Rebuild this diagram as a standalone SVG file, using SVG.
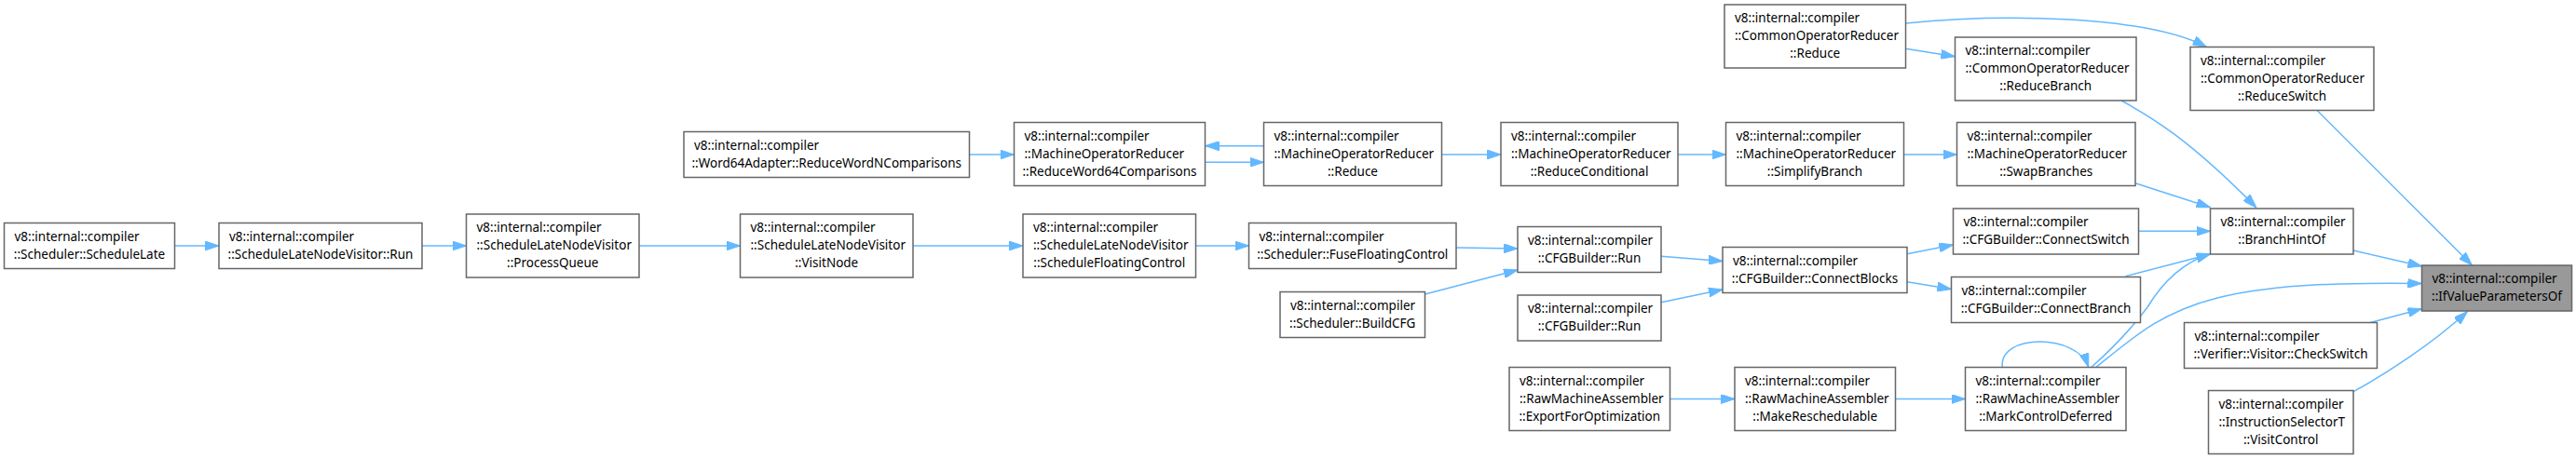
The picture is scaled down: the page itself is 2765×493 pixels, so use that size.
<svg xmlns="http://www.w3.org/2000/svg" width="2765" height="493" viewBox="0 0 2765 493">
<style>
.node rect{fill:#ffffff;stroke:#666666;stroke-width:1.5}
.hl rect{fill:#999999}
.node text{font-family:"Noto Sans","Liberation Sans",sans-serif;font-size:13.5px;fill:#000000}
.node text.c{text-anchor:middle}
.edge{fill:none;stroke:#63b8ff;stroke-width:1.5;marker-end:url(#ah)}
</style>
<defs>
<marker id="ah" viewBox="0 0 15 10" refX="15" refY="5" markerWidth="15" markerHeight="10" markerUnits="userSpaceOnUse" orient="auto">
<path d="M0,0 L15,5 L0,10 z" fill="#63b8ff" stroke="#63b8ff" stroke-width="1"/>
</marker>
</defs>
<rect width="2765" height="493" fill="#ffffff"/>
<g id="connectors">
<path class="edge" d="M187.5,264 L235,264"/>
<path class="edge" d="M453,264 L500.5,264"/>
<path class="edge" d="M686,264 L794.5,264"/>
<path class="edge" d="M980,264 L1098,264"/>
<path class="edge" d="M1283.5,264 L1340.5,264"/>
<path class="edge" d="M1040.5,166 L1088.5,166"/>
<path class="edge" d="M1356.5,156.7 L1293.5,156.7"/>
<path class="edge" d="M1293.5,174.3 L1356.5,174.3"/>
<path class="edge" d="M1547.5,166 L1611,166"/>
<path class="edge" d="M1801,166 L1852.5,166"/>
<path class="edge" d="M2043.5,166 L2100.5,166"/>
<path class="edge" d="M1563,266 L1629,267"/>
<path class="edge" d="M1529.5,316 L1629,290"/>
<path class="edge" d="M1783,275.3 L1849,280.5"/>
<path class="edge" d="M1783,324.7 L1849,311"/>
<path class="edge" d="M2047,272.7 L2096.5,263"/>
<path class="edge" d="M2047,302.7 L2094.5,310.5"/>
<path class="edge" d="M1792.5,428.5 L1862,428.5"/>
<path class="edge" d="M2034.5,428.5 L2109.5,428.5"/>
<path class="edge" d="M2045.5,52.3 L2098.5,60.7"/>
<path class="edge" d="M2045.5,25 C2150,14 2305,17 2368.5,50.5"/>
<path class="edge" d="M2277,108 C2310,126 2350,150 2422,223"/>
<path class="edge" d="M2292,196.7 L2372.5,222.7"/>
<path class="edge" d="M2295.5,248.3 L2372.5,248.3"/>
<path class="edge" d="M2281.7,296.7 L2372.5,273"/>
<path class="edge" d="M2245,394.3 C2270,372 2290,350 2305,330 C2320,305 2340,283 2372.5,272.5"/>
<path class="edge" d="M2250,394.3 C2290,362 2320,335 2380,320 C2450,303 2530,304 2599.5,304.5"/>
<path class="edge" d="M2149.3,394.3 C2145,358 2230,358 2241.7,394.3"/>
<path class="edge" d="M2487,118.5 L2653.5,285"/>
<path class="edge" d="M2526,269 L2599.5,286"/>
<path class="edge" d="M2543.3,346.7 L2599.5,331.7"/>
<path class="edge" d="M2526,420.7 C2560,402 2610,370 2648.5,334.5"/>
</g>
<g id="n_schedulelate" class="node"><rect x="4.5" y="239.5" width="183" height="49"/><text x="15.5" y="258.5">v8::internal::compiler</text><text class="c" x="96" y="277.5">::Scheduler::ScheduleLate</text></g>
<g id="n_slnv_run" class="node"><rect x="235" y="239.5" width="218" height="49"/><text x="246" y="258.5">v8::internal::compiler</text><text class="c" x="344" y="277.5">::ScheduleLateNodeVisitor::Run</text></g>
<g id="n_processqueue" class="node"><rect x="500.5" y="230" width="185.5" height="68"/><text x="511.5" y="249">v8::internal::compiler</text><text x="511.5" y="268">::ScheduleLateNodeVisitor</text><text class="c" x="593.25" y="287">::ProcessQueue</text></g>
<g id="n_visitnode" class="node"><rect x="794.5" y="230" width="185.5" height="68"/><text x="805.5" y="249">v8::internal::compiler</text><text x="805.5" y="268">::ScheduleLateNodeVisitor</text><text class="c" x="887.25" y="287">::VisitNode</text></g>
<g id="n_schedulefloating" class="node"><rect x="1098" y="230" width="185.5" height="68"/><text x="1109" y="249">v8::internal::compiler</text><text x="1109" y="268">::ScheduleLateNodeVisitor</text><text class="c" x="1190.75" y="287">::ScheduleFloatingControl</text></g>
<g id="n_fusefloating" class="node"><rect x="1340.5" y="239.5" width="222.5" height="49"/><text x="1351.5" y="258.5">v8::internal::compiler</text><text class="c" x="1451.75" y="277.5">::Scheduler::FuseFloatingControl</text></g>
<g id="n_buildcfg" class="node"><rect x="1374" y="313.5" width="155.5" height="49"/><text x="1385" y="332.5">v8::internal::compiler</text><text class="c" x="1451.75" y="351.5">::Scheduler::BuildCFG</text></g>
<g id="n_word64adapter" class="node"><rect x="734" y="141.5" width="306.5" height="49"/><text x="745" y="160.5">v8::internal::compiler</text><text class="c" x="887.25" y="179.5">::Word64Adapter::ReduceWordNComparisons</text></g>
<g id="n_reduceword64" class="node"><rect x="1088.5" y="131.5" width="205" height="68"/><text x="1099.5" y="150.5">v8::internal::compiler</text><text x="1099.5" y="169.5">::MachineOperatorReducer</text><text class="c" x="1191" y="188.5">::ReduceWord64Comparisons</text></g>
<g id="n_mor_reduce" class="node"><rect x="1356.5" y="131.5" width="191" height="68"/><text x="1367.5" y="150.5">v8::internal::compiler</text><text x="1367.5" y="169.5">::MachineOperatorReducer</text><text class="c" x="1452" y="188.5">::Reduce</text></g>
<g id="n_reduceconditional" class="node"><rect x="1611" y="131.5" width="190" height="68"/><text x="1622" y="150.5">v8::internal::compiler</text><text x="1622" y="169.5">::MachineOperatorReducer</text><text class="c" x="1706" y="188.5">::ReduceConditional</text></g>
<g id="n_simplifybranch" class="node"><rect x="1852.5" y="131.5" width="191" height="68"/><text x="1863.5" y="150.5">v8::internal::compiler</text><text x="1863.5" y="169.5">::MachineOperatorReducer</text><text class="c" x="1948" y="188.5">::SimplifyBranch</text></g>
<g id="n_swapbranches" class="node"><rect x="2100.5" y="131.5" width="191.5" height="68"/><text x="2111.5" y="150.5">v8::internal::compiler</text><text x="2111.5" y="169.5">::MachineOperatorReducer</text><text class="c" x="2196.25" y="188.5">::SwapBranches</text></g>
<g id="n_cfgbuilder_run1" class="node"><rect x="1629" y="243.5" width="154" height="49"/><text x="1640" y="262.5">v8::internal::compiler</text><text class="c" x="1706" y="281.5">::CFGBuilder::Run</text></g>
<g id="n_cfgbuilder_run2" class="node"><rect x="1629" y="317" width="154" height="49"/><text x="1640" y="336">v8::internal::compiler</text><text class="c" x="1706" y="355">::CFGBuilder::Run</text></g>
<g id="n_connectblocks" class="node"><rect x="1849" y="265.5" width="198" height="49"/><text x="1860" y="284.5">v8::internal::compiler</text><text class="c" x="1948" y="303.5">::CFGBuilder::ConnectBlocks</text></g>
<g id="n_exportforopt" class="node"><rect x="1620" y="394.5" width="172.5" height="68"/><text x="1631" y="413.5">v8::internal::compiler</text><text x="1631" y="432.5">::RawMachineAssembler</text><text class="c" x="1706.25" y="451.5">::ExportForOptimization</text></g>
<g id="n_makereschedulable" class="node"><rect x="1862" y="394.5" width="172.5" height="68"/><text x="1873" y="413.5">v8::internal::compiler</text><text x="1873" y="432.5">::RawMachineAssembler</text><text class="c" x="1948.25" y="451.5">::MakeReschedulable</text></g>
<g id="n_markcontroldeferred" class="node"><rect x="2109.5" y="394.5" width="172.5" height="68"/><text x="2120.5" y="413.5">v8::internal::compiler</text><text x="2120.5" y="432.5">::RawMachineAssembler</text><text class="c" x="2195.75" y="451.5">::MarkControlDeferred</text></g>
<g id="n_cor_reduce" class="node"><rect x="1851" y="5" width="194.5" height="68"/><text x="1862" y="24">v8::internal::compiler</text><text x="1862" y="43">::CommonOperatorReducer</text><text class="c" x="1948.25" y="62">::Reduce</text></g>
<g id="n_reducebranch" class="node"><rect x="2098.5" y="40" width="194.5" height="68"/><text x="2109.5" y="59">v8::internal::compiler</text><text x="2109.5" y="78">::CommonOperatorReducer</text><text class="c" x="2195.75" y="97">::ReduceBranch</text></g>
<g id="n_reduceswitch" class="node"><rect x="2351" y="50.5" width="197" height="68"/><text x="2362" y="69.5">v8::internal::compiler</text><text x="2362" y="88.5">::CommonOperatorReducer</text><text class="c" x="2449.5" y="107.5">::ReduceSwitch</text></g>
<g id="n_connectswitch" class="node"><rect x="2096.5" y="224" width="199" height="49"/><text x="2107.5" y="243">v8::internal::compiler</text><text class="c" x="2196" y="262">::CFGBuilder::ConnectSwitch</text></g>
<g id="n_branchhintof" class="node"><rect x="2372.5" y="224" width="153.5" height="49"/><text x="2383.5" y="243">v8::internal::compiler</text><text class="c" x="2449.25" y="262">::BranchHintOf</text></g>
<g id="n_connectbranch" class="node"><rect x="2094.5" y="297.5" width="203" height="49"/><text x="2105.5" y="316.5">v8::internal::compiler</text><text class="c" x="2196" y="335.5">::CFGBuilder::ConnectBranch</text></g>
<g id="n_ifvalueparametersof" class="node hl"><rect x="2599.5" y="285" width="161" height="49"/><text x="2610.5" y="304">v8::internal::compiler</text><text class="c" x="2680" y="323">::IfValueParametersOf</text></g>
<g id="n_checkswitch" class="node"><rect x="2344.5" y="346.5" width="207" height="49"/><text x="2355.5" y="365.5">v8::internal::compiler</text><text class="c" x="2448" y="384.5">::Verifier::Visitor::CheckSwitch</text></g>
<g id="n_visitcontrol" class="node"><rect x="2370.5" y="419.5" width="155.5" height="68"/><text x="2381.5" y="438.5">v8::internal::compiler</text><text x="2381.5" y="457.5">::InstructionSelectorT</text><text class="c" x="2448.25" y="476.5">::VisitControl</text></g>
</svg>
